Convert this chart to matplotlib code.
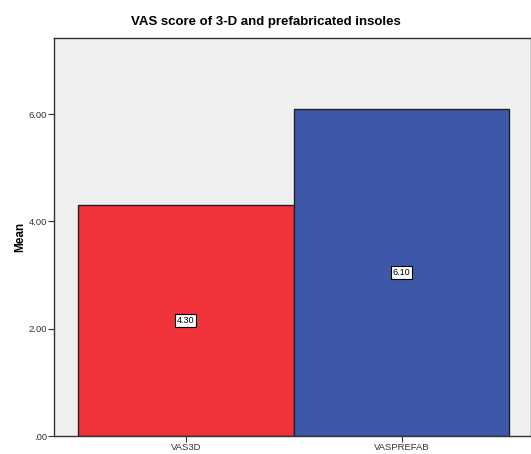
import matplotlib
matplotlib.use("Agg")
import matplotlib.pyplot as plt
from matplotlib.ticker import FixedLocator, FixedFormatter

plt.rcParams["font.family"] = ["Liberation Sans", "DejaVu Sans"]

categories = ["VAS3D", "VASPREFAB"]
means = [4.30, 6.10]
colors = ["#F0323A", "#3D58A9"]
yticks = [0, 2, 4, 6]
ytick_labels = [".00", "2.00", "4.00", "6.00"]

fig = plt.figure(figsize=(5.31, 4.54), dpi=100)
ax = fig.add_axes([54 / 531, 18 / 454, 477 / 531, 398 / 454])
ax.set_facecolor("#F0F0F0")

x = list(range(len(categories)))
ax.bar(x, means, width=1.0, color=colors, edgecolor="#222222", linewidth=1.0)

for xi, m in zip(x, means):
    ax.text(xi, m / 2, f"{m:.2f}", ha="center", va="center", fontsize=6.5,
            bbox=dict(boxstyle="square,pad=0.2", fc="white", ec="black", lw=0.8))

ax.set_xlim(-0.611, 1.6)
ax.set_ylim(0, 7.42)
ax.yaxis.set_major_locator(FixedLocator(yticks))
ax.yaxis.set_major_formatter(FixedFormatter(ytick_labels))
ax.set_xticks(x)
ax.set_xticklabels(categories)
ax.tick_params(axis="both", labelsize=6.8, length=4, width=0.8, color="#333333", labelcolor="#333333", pad=1)

for s in ax.spines.values():
    s.set_color("#333333")
    s.set_linewidth(1.0)

ax.set_ylabel("Mean", fontsize=8.5, fontweight="bold", labelpad=2)
fig.text(0.5, 1 - 22 / 454, "VAS score of 3-D and prefabricated insoles",
         ha="center", va="center", fontsize=9.5, fontweight="bold")

fig.savefig("out.png", dpi=100)
